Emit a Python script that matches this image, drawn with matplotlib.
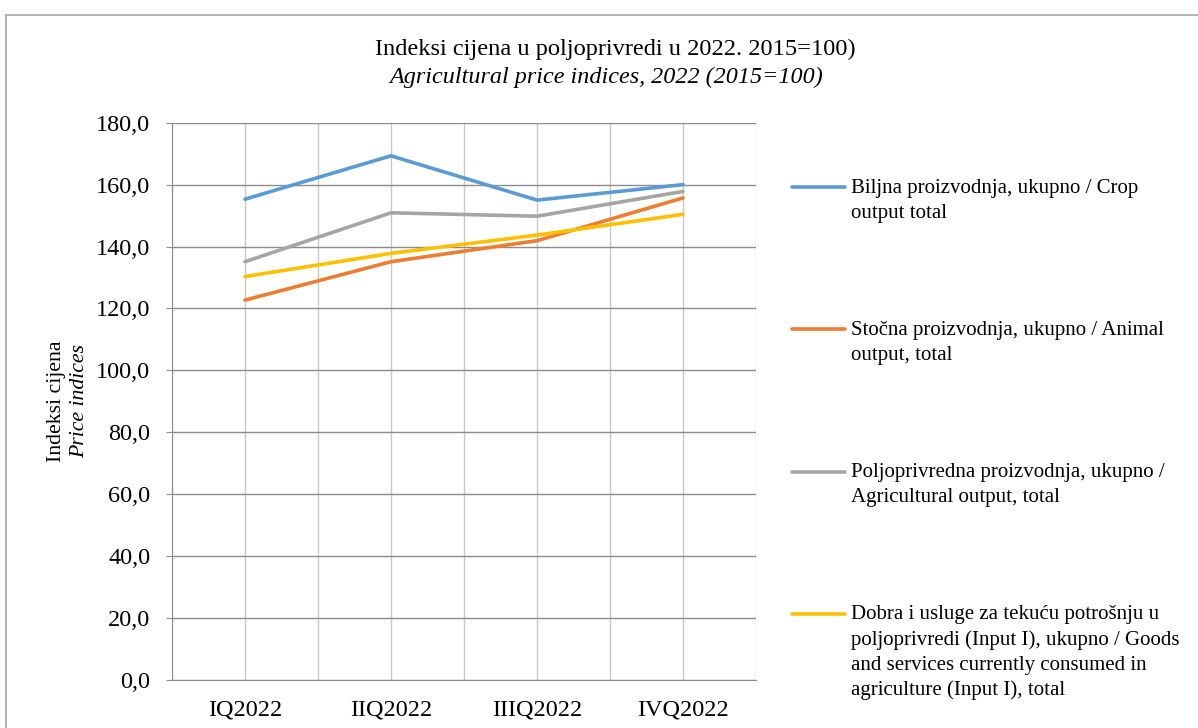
import numpy as np
import matplotlib.pyplot as plt
from matplotlib.lines import Line2D

# podaci ocitani sa grafika
quarters = ['IQ2022', 'IIQ2022', 'IIIQ2022', 'IVQ2022']
crop = [155.3, 169.3, 155.0, 160.0]
animal = [122.7, 135.1, 141.9, 155.7]
agri = [135.1, 150.9, 149.8, 157.8]
input1 = [130.3, 137.8, 143.7, 150.4]

labels = ['Biljna proizvodnja, ukupno / Crop\noutput total',
          'Stočna proizvodnja, ukupno / Animal\noutput, total',
          'Poljoprivredna proizvodnja, ukupno /\nAgricultural output, total',
          'Dobra i usluge za tekuću potrošnju u\npoljoprivredi (Input I), ukupno / Goods\n'
          'and services currently consumed in\nagriculture (Input I), total']
colors = ['#5B9BD5', '#ED7D31', '#A5A5A5', '#FFC000']
series = [crop, animal, agri, input1]

plt.rcParams['font.family'] = ['Liberation Serif', 'DejaVu Serif']

W, H = 1198, 728
fig = plt.figure(figsize=(W / 100, H / 100), dpi=100)

# okvir oko grafika (lijevo i gore)
fig.add_artist(Line2D([5.5 / W, 5.5 / W], [0, 1 - 14.5 / H], color='#a6a6a6', linewidth=1.2,
                      transform=fig.transFigure))
fig.add_artist(Line2D([5.5 / W, 1], [1 - 14.5 / H, 1 - 14.5 / H], color='#a6a6a6', linewidth=1.2,
                      transform=fig.transFigure))

ax = fig.add_axes([172 / W, 1 - 680 / H, (756 - 172) / W, (680 - 122.7) / H])
x = np.arange(len(quarters))
for s, c in zip(series, colors):
    ax.plot(x, s, color=c, linewidth=2.6, solid_capstyle='round', zorder=3)

ax.set_xlim(-0.5, 3.5)
ax.set_ylim(0, 180)
ax.set_yticks(np.arange(0, 181, 20))
ax.set_yticklabels([('%.1f' % v).replace('.', ',') for v in np.arange(0, 181, 20)])
ax.set_xticks(x)
ax.set_xticklabels(quarters)
ax.set_xticks(np.arange(-0.5, 3.6, 0.5), minor=True)
ax.xaxis.remove_overlapping_locs = False

ax.grid(axis='y', which='major', color='#8c8c8c', linewidth=1.0)
ax.grid(axis='x', which='minor', color='#c8c8c8', linewidth=1.0)
ax.set_axisbelow(True)
for sp in ['top', 'right']:
    ax.spines[sp].set_visible(False)
ax.spines['left'].set_color('#8c8c8c')
ax.spines['bottom'].set_color('#8c8c8c')
ax.tick_params(axis='y', length=4, color='#8c8c8c', pad=11.5, labelsize=17.5)
ax.tick_params(axis='x', which='both', length=0, pad=14, labelsize=17.5)

# naslov
fig.text(615 / W, 1 - 49 / H, 'Indeksi cijena u poljoprivredi u 2022. 2015=100)',
         ha='center', va='center', fontsize=17.6)
fig.text(606 / W, 1 - 77 / H, 'Agricultural price indices, 2022 (2015=100)',
         ha='center', va='center', fontsize=17.4, style='italic')

# naziv y ose
fig.text(57 / W, 1 - 401 / H, 'Indeksi cijena', rotation=90, ha='center', va='center', fontsize=15.7)
fig.text(80 / W, 1 - 401 / H, 'Price indices', rotation=90, ha='center', va='center',
         fontsize=15.7, style='italic')

# legenda
leg_y = [187, 329, 471.5, 613.5]
for lab, c, yy in zip(labels, colors, leg_y):
    fig.add_artist(Line2D([792 / W, 845 / W], [1 - yy / H, 1 - yy / H], color=c,
                          linewidth=2.6, solid_capstyle='round', transform=fig.transFigure))
    fig.text(851 / W, 1 - (yy - 8) / H, lab, ha='left', va='top', fontsize=15,
             linespacing=1.4)

fig.savefig('out.png', dpi=100)
